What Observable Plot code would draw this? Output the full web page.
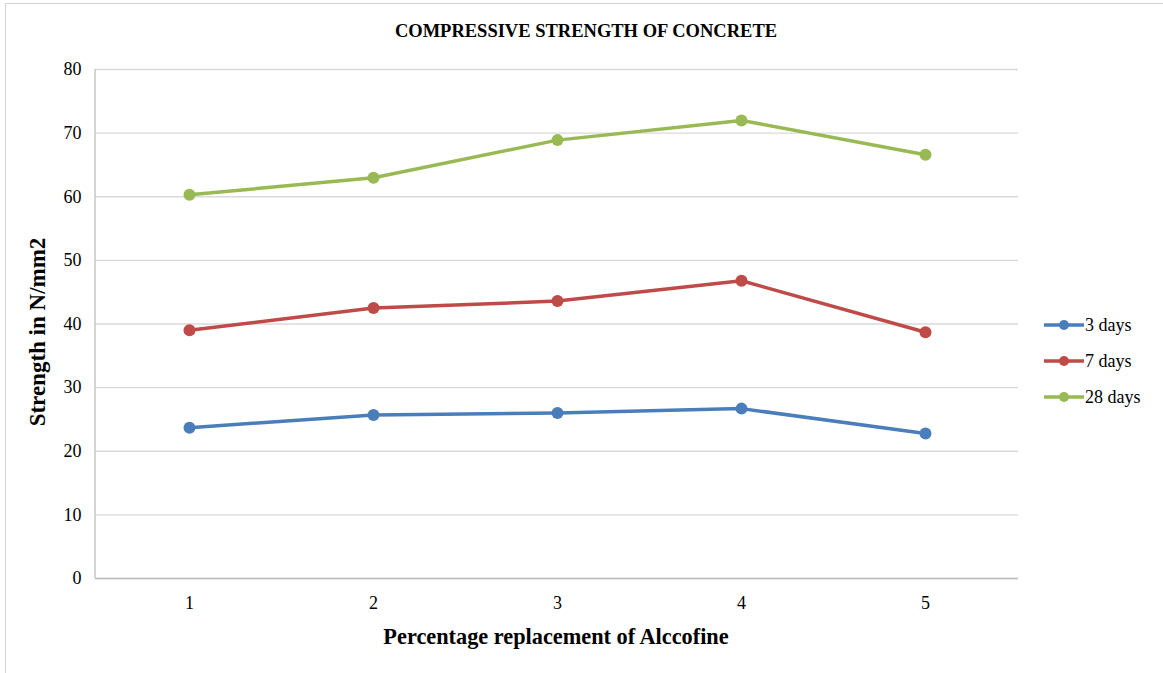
<!DOCTYPE html>
<html>
<head>
<meta charset="utf-8">
<script src="https://cdn.jsdelivr.net/npm/d3@7"></script>
<script src="https://cdn.jsdelivr.net/npm/@observablehq/plot@0.6"></script>
<style>
  html, body { margin: 0; padding: 0; background: #fff; }
  #wrap { position: relative; width: 1163px; height: 673px; overflow: hidden; font-family: "Liberation Serif", "Times New Roman", serif; color: #000; }
  #border { position: absolute; left: 5px; top: 3px; width: 1200px; height: 700px; border-left: 1.5px solid #d4d4d4; border-top: 1.5px solid #d4d4d4; pointer-events: none; }
  #title { position: absolute; left: 586px; top: 31px; transform: translate(-50%, -50%); font-weight: bold; font-size: 18.5px; white-space: nowrap; }
  #xtitle { position: absolute; left: 556px; top: 637px; transform: translate(-50%, -50%); font-weight: bold; font-size: 22.3px; white-space: nowrap; }
  #ytitle { position: absolute; left: 38px; top: 332px; transform: translate(-50%, -50%) rotate(-90deg); font-weight: bold; font-size: 23px; white-space: nowrap; }
  #legend { position: absolute; left: 1044px; top: 310px; }
  .item { position: absolute; left: 0; height: 24px; display: flex; align-items: center; white-space: nowrap; font-size: 18px; }
  .item svg { display: block; }
  #chart { position: absolute; left: 0; top: 0; }
</style>
</head>
<body>
<div id="wrap">
  <div id="chart"></div>
  <div id="border"></div>
  <div id="title"></div>
  <div id="xtitle"></div>
  <div id="ytitle"></div>
  <div id="legend"></div>
</div>
<script>
// ---- data ----
const titleText = "COMPRESSIVE STRENGTH OF CONCRETE";
const xTitle = "Percentage replacement of Alccofine";
const yTitle = "Strength in N/mm2";
const replacement = [1, 2, 3, 4, 5];
const yTicks = [0, 10, 20, 30, 40, 50, 60, 70, 80];
const seriesNames = ["3 days", "7 days", "28 days"];
const seriesColors = ["#4a7ebb", "#be4b48", "#98b954"];
const days3 = [23.7, 25.7, 26.0, 26.7, 22.8];
const days7 = [39.0, 42.5, 43.6, 46.8, 38.7];
const days28 = [60.3, 63.0, 68.9, 72.0, 66.6];

const seriesValues = [days3, days7, days28];
const data = [];
seriesNames.forEach((name, si) => {
  replacement.forEach((x, i) => data.push({series: name, x, v: seriesValues[si][i]}));
});

document.getElementById("title").textContent = titleText;
document.getElementById("xtitle").textContent = xTitle;
document.getElementById("ytitle").textContent = yTitle;

const leftAxisLine = (index, scales, values, dims) => {
  const g = document.createElementNS("http://www.w3.org/2000/svg", "line");
  g.setAttribute("x1", dims.marginLeft);
  g.setAttribute("x2", dims.marginLeft);
  g.setAttribute("y1", dims.marginTop);
  g.setAttribute("y2", dims.height - dims.marginBottom);
  g.setAttribute("stroke", "#bfbfbf");
  g.setAttribute("stroke-width", "1.3");
  return g;
};

const chart = Plot.plot({
  width: 1163,
  height: 673,
  marginLeft: 95,
  marginRight: 145,
  marginTop: 69,
  marginBottom: 95,
  style: {fontFamily: "'Liberation Serif', 'Times New Roman', serif", fontSize: "18px", color: "#000", background: "transparent"},
  x: {type: "point", domain: replacement, padding: 0.5, label: null},
  y: {domain: [0, 80], label: null},
  color: {domain: seriesNames, range: seriesColors},
  marks: [
    Plot.gridY(yTicks, {stroke: "#d9d9d9", strokeOpacity: 1, strokeWidth: 1.3}),
    Plot.ruleY([0], {stroke: "#bfbfbf", strokeWidth: 1.3}),
    leftAxisLine,
    Plot.axisX({tickSize: 0, tickPadding: 18, label: null, fontSize: 18}),
    Plot.axisY(yTicks, {tickSize: 0, tickPadding: 14, label: null, fontSize: 18}),
    Plot.line(data, {x: "x", y: "v", z: "series", stroke: "series", strokeWidth: 3.5}),
    Plot.dot(data, {x: "x", y: "v", fill: "series", r: 6})
  ]
});
document.getElementById("chart").appendChild(chart);

// legend
const legend = document.getElementById("legend");
const legendY = [3, 39, 75];
seriesNames.forEach((name, i) => {
  const item = document.createElement("div");
  item.className = "item";
  item.style.top = legendY[i] + "px";
  item.innerHTML = `<svg width="40" height="14"><line x1="0" x2="40" y1="7" y2="7" stroke="${seriesColors[i]}" stroke-width="3.5"/><circle cx="20" cy="7" r="5" fill="${seriesColors[i]}"/></svg><span style="margin-left:1px">${name}</span>`;
  legend.appendChild(item);
});
</script>
</body>
</html>
